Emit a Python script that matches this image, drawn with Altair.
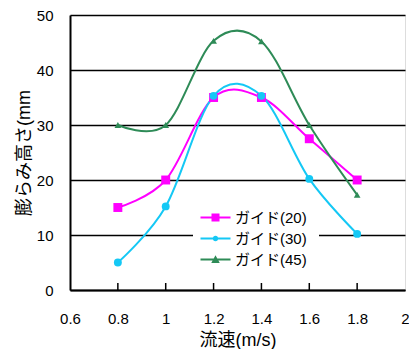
import altair as alt
import pandas as pd

flow = [0.8, 1.0, 1.2, 1.4, 1.6, 1.8]
guide20 = [15.0, 20.0, 35.0, 35.0, 27.5, 20.0]
guide30 = [5.0, 15.2, 35.3, 35.3, 20.2, 10.2]
guide45 = [30.0, 30.0, 45.3, 45.2, 30.0, 17.3]
series = ["ガイド(20)", "ガイド(30)", "ガイド(45)"]
colors = ["#ff00ff", "#14c8f5", "#2e8b57"]
x_ticks = [0.6, 0.8, 1.0, 1.2, 1.4, 1.6, 1.8, 2.0]
y_ticks = [0, 10, 20, 30, 40, 50]

rows = []
for name, vals in zip(series, [guide20, guide30, guide45]):
    for xv, yv in zip(flow, vals):
        rows.append({"x": xv, "y": yv, "s": name})
df = pd.DataFrame(rows)
tick_df = pd.DataFrame({"x": flow})

FONT = "Liberation Sans, Noto Sans CJK JP"
W, H = 335, 275

legend_paths = [
    "M-3,-0.2H3V0.2H-3Z M-0.8,-0.8H0.8V0.8H-0.8Z",
    "M-3,-0.2H3V0.2H-3Z M0.55,0A0.55,0.55,0,1,1,-0.55,0A0.55,0.55,0,1,1,0.55,0Z",
    "M-3,-0.2H3V0.2H-3Z M0,-0.85L0.85,0.7H-0.85Z",
]

xscale = alt.Scale(domain=[0.6, 2.0], nice=False, zero=False)
yscale = alt.Scale(domain=[0, 50], nice=False)
cscale = alt.Scale(domain=series, range=colors)

legend = alt.Legend(
    title=None,
    orient="none",
    legendX=123,
    legendY=183,
    fillColor="white",
    padding=12,
    labelFont=FONT,
    labelFontSize=15,
    labelColor="black",
    labelOffset=12,
    symbolSize=100,
    symbolOffset=3,
    rowPadding=5,
    symbolOpacity=1,
    symbolStrokeWidth=0,
)

base = alt.Chart(df)

lines = base.mark_line(interpolate="cardinal", tension=0, strokeWidth=2, clip=True).encode(
    x=alt.X("x:Q", scale=xscale, axis=alt.Axis(
        values=x_ticks, title="流速(m/s)", grid=False, ticks=False, labelFlush=False,
        labelExpr="datum.value == 1 ? '1' : datum.value == 2 ? '2' : format(datum.value, '.1f')",
        domainColor="black", domainWidth=2, labelPadding=21,
        labelFont=FONT, labelFontSize=15, labelColor="black",
        titleFont=FONT, titleFontSize=18, titleFontWeight="normal", titleColor="black",
        titlePadding=5,
    )),
    y=alt.Y("y:Q", scale=yscale, axis=alt.Axis(
        values=y_ticks, title="膨らみ高さ(mm", grid=True, gridColor="black",
        gridWidth=1.7, ticks=False, domainColor="black", domainWidth=2, labelFlush=False,
        labelPadding=17, labelFont=FONT, labelFontSize=15, labelColor="black",
        titleFont=FONT, titleFontSize=18, titleFontWeight="normal", titleColor="black",
        titlePadding=3,
    )),
    color=alt.Color("s:N", scale=cscale, legend=None),
)

points = base.mark_point(filled=True, opacity=1).encode(
    x=alt.X("x:Q", scale=xscale),
    y=alt.Y("y:Q", scale=yscale),
    color=alt.Color("s:N", scale=cscale, legend=None),
    shape=alt.Shape("s:N", scale=alt.Scale(domain=series, range=["square", "circle", "triangle-up"]), legend=None),
    size=alt.Size("s:N", scale=alt.Scale(domain=series, range=[80, 45, 75]), legend=None),
)

legend_layer = base.transform_filter("false").mark_point(filled=True, opacity=1, size=100).encode(
    x=alt.X("x:Q", scale=xscale),
    y=alt.Y("y:Q", scale=yscale),
    color=alt.Color("s:N", scale=cscale, legend=legend),
    shape=alt.Shape("s:N", scale=alt.Scale(domain=series, range=legend_paths), legend=legend),
)

ticks = alt.Chart(tick_df).mark_rule(color="black", strokeWidth=1.5).encode(
    x=alt.X("x:Q", scale=xscale),
    y=alt.value(H - 7),
    y2=alt.value(H),
)

chart = alt.layer(ticks, lines, points, legend_layer).resolve_scale(
    shape="independent", size="independent", color="independent"
).properties(
    width=W, height=H,
    autosize=alt.AutoSizeParams(type="none"),
    padding={"left": 70, "top": 15, "right": 4, "bottom": 59},
).configure_view(stroke="black", strokeWidth=1.5).configure(background="white")

chart.save("out.html", embed_options={"renderer": "svg", "actions": False})
